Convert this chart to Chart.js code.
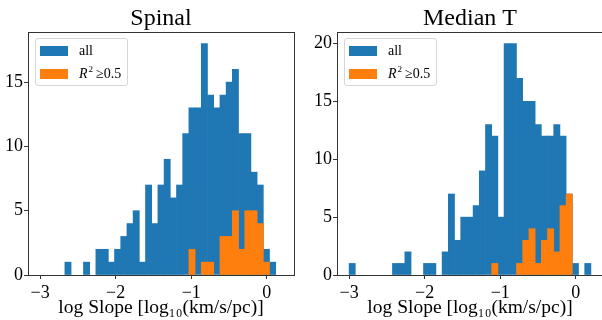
<!DOCTYPE html>
<html>
<head>
<meta charset="utf-8">
<script src="https://cdn.jsdelivr.net/npm/chart.js@4.4.1/dist/chart.umd.min.js"></script>
<style>
body { margin: 0; width: 602px; height: 320px; overflow: hidden; background: #fff; font-family: "Liberation Serif", "Times New Roman", serif; }
.panel { position: absolute; top: 0; height: 320px; }
#left { left: 0; width: 300px; }
#right { left: 300px; width: 304px; }
.legend { position: absolute; box-sizing: border-box; width: 93px; height: 48px; padding-left: 4px;
    border: 1px solid #d6d6d6; border-radius: 3px; background: rgba(255,255,255,0.8); font-size: 14px; color: #000; }
.legend .row { display: flex; align-items: center; height: 23px; }
.legend .swatch { display: inline-block; width: 28px; height: 10px; margin-right: 11px; }
.legend sup { font-size: 9px; line-height: 0; vertical-align: 6px; margin-left: 1px; margin-right: 3px; }
</style>
</head>
<body>
<div class="panel" id="left"><canvas id="spinalChart" width="300" height="320"></canvas></div>
<div class="panel" id="right"><canvas id="medianChart" width="304" height="320"></canvas></div>
<script>
// histogram bin centres, log10 slope (same bins for both panels)
const binCenters = [-2.959, -2.877, -2.795, -2.713, -2.631, -2.549, -2.467, -2.385, -2.303, -2.221,
    -2.138, -2.056, -1.974, -1.892, -1.810, -1.728, -1.646, -1.564, -1.482, -1.400,
    -1.318, -1.236, -1.154, -1.072, -0.990, -0.908, -0.826, -0.744, -0.662, -0.579,
    -0.497, -0.415, -0.333, -0.251, -0.169, -0.087, -0.005, 0.077, 0.159];

// Spinal panel
const spinalAll = [0, 0, 0, 0, 1, 0, 0, 1, 0, 2, 2, 1, 2, 3, 4, 5, 1, 7, 4, 7,
    9, 6, 7, 11, 13, 13, 18, 14, 13, 14, 15, 16, 11, 11, 8, 7, 2, 1, 0];
const spinalFit = [0, 0, 0, 0, 0, 0, 0, 0, 0, 0, 0, 0, 0, 0, 0, 0, 0, 0, 0, 0,
    0, 0, 0, 0, 2, 0, 1, 1, 0, 3, 3, 5, 2, 5, 5, 4, 1, 0, 0];

// Median T panel
const medianAll = [1, 0, 0, 0, 0, 0, 0, 1, 1, 2, 0, 0, 1, 1, 0, 2, 7, 3, 5, 5,
    6, 9, 13, 12, 5, 20, 20, 17, 15, 15, 13, 12, 12, 13, 12, 7, 1, 0, 1];
const medianFit = [0, 0, 0, 0, 0, 0, 0, 0, 0, 0, 0, 0, 0, 0, 0, 0, 0, 0, 0, 0,
    0, 0, 0, 1, 0, 0, 0, 1, 3, 4, 1, 3, 4, 2, 6, 7, 0, 0, 0];

const xTicks = [-3, -2, -1, 0];
const spinalYTicks = [0, 5, 10, 15];
const medianYTicks = [0, 5, 10, 15, 20];
const seriesLabels = ["all", "R\u00b2 \u22650.5"];
const legendHtml = ["all", "<i>R</i><sup>2</sup>\u22650.5"];
const xTitle = "log Slope [log\u2081\u2080(km/s/pc)]";

Chart.defaults.font.family = "'Liberation Serif', 'Times New Roman', serif";

// box round the plot area, like the matplotlib spines
const framePlugin = {
    id: "frame",
    afterDraw(chart) {
        const a = chart.chartArea;
        const ctx = chart.ctx;
        ctx.save();
        ctx.strokeStyle = "#333";
        ctx.lineWidth = 1;
        ctx.strokeRect(Math.round(a.left) + 0.5, Math.round(a.top) + 0.5,
            Math.round(a.right - a.left), Math.round(a.bottom - a.top));
        ctx.restore();
    }
};

document.addEventListener("DOMContentLoaded", () => {
    const c1 = makePanel("spinalChart", "Spinal", spinalAll, spinalFit, spinalYTicks, 18.9, 28, 6);
    addLegend("left", c1);
    const c2 = makePanel("medianChart", "Median T", medianAll, medianFit, medianYTicks, 21, 37, 1);
    addLegend("right", c2);
});

function fmtTick(v) {
    return v < 0 ? "\u2212" + Math.abs(v) : String(v);
}

function makePanel(id, title, allCounts, fitCounts, yTicks, yMax, yWidth, padRight) {
    const toPoints = counts => binCenters.map((c, i) => ({x: c, y: counts[i]}));
    return new Chart(document.getElementById(id), {
        type: "bar",
        data: {
            datasets: [{
                label: seriesLabels[0],
                data: toPoints(allCounts),
                backgroundColor: "#1f77b4",
                order: 1
            }, {
                label: seriesLabels[1],
                data: toPoints(fitCounts),
                backgroundColor: "#ff7f0e",
                order: 0
            }]
        },
        options: {
            responsive: false,
            animation: false,
            datasets: {
                bar: {
                    barPercentage: 1,
                    categoryPercentage: 1,
                    grouped: false,
                    borderWidth: 0,
                    // empty bins: no hairline along the baseline
                    inflateAmount: ctx => (ctx.raw && ctx.raw.y === 0 ? 0 : "auto")
                }
            },
            layout: { padding: { left: 0, right: padRight, top: 0, bottom: 0 } },
            plugins: {
                legend: { display: false },
                tooltip: { enabled: false },
                title: {
                    display: true,
                    text: title,
                    fullSize: false,
                    color: "#000",
                    font: { size: 24, weight: "normal", lineHeight: 1 },
                    padding: { top: 6.6, bottom: 1.4 }
                }
            },
            scales: {
                x: {
                    type: "linear",
                    offset: false,
                    min: -3.16,
                    max: 0.36,
                    afterBuildTicks: s => { s.ticks = xTicks.map(v => ({value: v})); },
                    afterFit: s => { s.height = 45; },
                    grid: { drawOnChartArea: false, offset: false, tickLength: 4, color: "#333" },
                    border: { display: false },
                    ticks: { color: "#000", font: { size: 18 }, padding: 3, maxRotation: 0, callback: v => fmtTick(v) },
                    title: {
                        display: true,
                        text: xTitle,
                        color: "#000",
                        font: { size: 19.5 },
                        padding: { top: 0, bottom: 0 }
                    }
                },
                y: {
                    min: 0,
                    max: yMax,
                    afterBuildTicks: s => { s.ticks = yTicks.map(v => ({value: v})); },
                    afterFit: s => { s.width = yWidth; },
                    grid: { drawOnChartArea: false, tickLength: 4, color: "#333" },
                    border: { display: false },
                    ticks: { color: "#000", font: { size: 18 }, padding: 1 }
                }
            }
        },
        plugins: [framePlugin]
    });
}

function addLegend(panelId, chart) {
    const box = document.createElement("div");
    box.className = "legend";
    box.style.left = Math.round(chart.chartArea.left + 7) + "px";
    box.style.top = Math.round(chart.chartArea.top + 6) + "px";
    chart.data.datasets.forEach((ds, i) => {
        const row = document.createElement("div");
        row.className = "row";
        const sw = document.createElement("span");
        sw.className = "swatch";
        sw.style.backgroundColor = ds.backgroundColor;
        const txt = document.createElement("span");
        txt.innerHTML = legendHtml[i];
        row.appendChild(sw);
        row.appendChild(txt);
        box.appendChild(row);
    });
    document.getElementById(panelId).appendChild(box);
}
</script>
</body>
</html>
